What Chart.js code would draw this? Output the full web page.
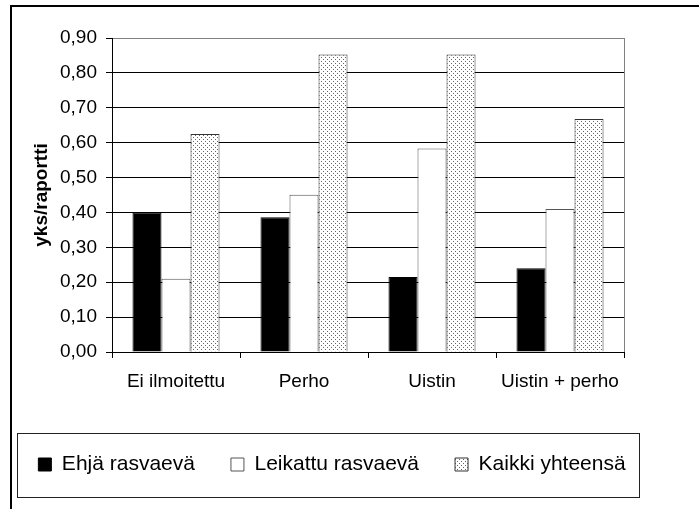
<!DOCTYPE html>
<html>
<head>
<meta charset="utf-8">
<script src="https://cdn.jsdelivr.net/npm/chart.js@4.4.0/dist/chart.umd.min.js"></script>
<style>
  html, body { margin: 0; padding: 0; background: #fff; }
  #wrap { width: 699px; height: 509px; position: relative; }
</style>
</head>
<body>
<div id="wrap"><canvas id="chart"></canvas></div>
<script>
const categories = ["Ei ilmoitettu", "Perho", "Uistin", "Uistin + perho"];
const seriesNames = ["Ehjä rasvaevä", "Leikattu rasvaevä", "Kaikki yhteensä"];
const ehja = [0.40, 0.386, 0.215, 0.24];
const leikattu = [0.21, 0.451, 0.583, 0.41];
const kaikki = [0.625, 0.853, 0.853, 0.668];
const yTicks = [0, 0.1, 0.2, 0.3, 0.4, 0.5, 0.6, 0.7, 0.8, 0.9];

const FONT = "'Liberation Sans', Arial, sans-serif";

// dotted fill like the old Excel pattern
function dotPattern() {
  const c = document.createElement("canvas");
  c.width = 4;
  c.height = 4;
  const g = c.getContext("2d");
  g.fillStyle = "#fff";
  g.fillRect(0, 0, 4, 4);
  g.fillStyle = "#666";
  g.fillRect(1, 1, 1, 1);
  g.fillRect(3, 3, 1, 1);
  return g.createPattern(c, "repeat");
}

const frames = {
  id: "frames",
  beforeDraw(chart) {
    const ctx = chart.ctx;
    const a = chart.chartArea;
    ctx.save();
    ctx.fillStyle = "#fff";
    ctx.fillRect(0, 0, chart.width, chart.height);
    // outer frame
    ctx.strokeStyle = "#000";
    ctx.lineWidth = 2;
    ctx.beginPath();
    ctx.moveTo(11, chart.height + 5);
    ctx.lineTo(11, 6);
    ctx.lineTo(chart.width + 5, 6);
    ctx.stroke();
    // gray right edge of plot area
    ctx.strokeStyle = "#808080";
    ctx.lineWidth = 1;
    ctx.beginPath();
    ctx.moveTo(Math.round(a.right) + 0.5, a.top);
    ctx.lineTo(Math.round(a.right) + 0.5, a.bottom);
    ctx.stroke();
    ctx.restore();
  },
  afterDraw(chart) {
    const ctx = chart.ctx;
    ctx.save();
    ctx.strokeStyle = "#222";
    ctx.lineWidth = 1;
    ctx.strokeRect(17.5, 433.5, 622, 64);
    ctx.restore();
  }
};

new Chart(document.getElementById("chart"), {
  type: "bar",
  data: {
    labels: categories,
    datasets: [
      {
        label: seriesNames[0],
        data: ehja,
        backgroundColor: "#000",
        borderColor: "#000",
        borderWidth: 1,
      },
      {
        label: seriesNames[1],
        data: leikattu,
        backgroundColor: "#fff",
        borderColor: "#555",
        borderWidth: 1,
      },
      {
        label: seriesNames[2],
        data: kaikki,
        backgroundColor: dotPattern(),
        borderColor: "#333",
        borderWidth: 1,
      },
    ],
  },
  plugins: [frames],
  options: {
    responsive: true,
    maintainAspectRatio: false,
    animation: false,
    datasets: {
      bar: {
        categoryPercentage: 0.68,
        barPercentage: 1,
      },
    },
    layout: {
      padding: { left: 0, top: 38, right: 35, bottom: 24 },
    },
    plugins: {
      tooltip: { enabled: false },
      legend: {
        position: "bottom",
        labels: {
          boxWidth: 13,
          boxHeight: 13,
          padding: 36,
          color: "#000",
          font: { family: FONT, size: 21 },
        },
      },
    },
    scales: {
      x: {
        grid: {
          drawOnChartArea: false,
          color: "#000",
          tickLength: 6,
        },
        border: { color: "#000", width: 1 },
        ticks: {
          color: "#000",
          padding: 12,
          maxRotation: 0,
          font: { family: FONT, size: 19 },
        },
        afterFit(s) {
          s.height = 66;
        },
      },
      y: {
        min: 0,
        max: 0.9,
        afterBuildTicks(s) {
          s.ticks = yTicks.map((v) => ({ value: v }));
        },
        grid: {
          color: (c) => (c.tick && c.tick.value >= 0.9 ? "#808080" : "#000"),
          tickColor: "#000",
          tickLength: 6,
        },
        border: { color: "#000", width: 1 },
        ticks: {
          color: "#000",
          padding: 9,
          font: { family: FONT, size: 19 },
          callback: (v) => Number(v).toFixed(2).replace(".", ","),
        },
        title: {
          display: true,
          text: "yks/raportti",
          color: "#000",
          padding: { top: 30, bottom: 0 },
          font: { family: FONT, size: 19, weight: "bold" },
        },
        afterFit(s) {
          s.width = 112;
        },
      },
      pad: {
        type: "linear",
        position: "right",
        display: true,
        grid: { display: false },
        border: { display: false },
        ticks: { display: false },
        afterFit(s) {
          s.width = 40;
        },
      },
    },
  },
});
</script>
</body>
</html>
